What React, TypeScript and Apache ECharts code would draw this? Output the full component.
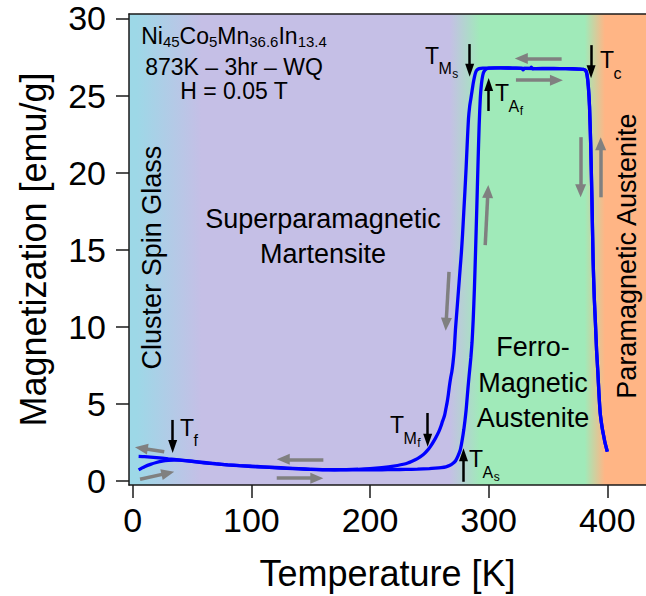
import React, { useEffect, useRef } from "react";
import * as echarts from "echarts";

const FONT = '"Liberation Sans", Arial, Helvetica, sans-serif';

// Axis extents: temperature in K, magnetization in emu/g
const T_MIN = -3.1;
const T_MAX = 432.6;
const M_MIN = -0.26;
const M_MAX = 30.29;

const temperatureTicks = [0, 100, 200, 300, 400];
const magnetizationTicks = [0, 5, 10, 15, 20, 25, 30];

// Field-cooled branch, measured from 400 K down to 5 K
const coolingT = [
  400, 399, 398, 397, 396, 395, 394, 393, 392, 391, 390, 389, 388, 387, 386, 385, 384, 383, 382, 380,
  376, 370, 360, 350, 340, 337, 336, 335, 330, 329, 328, 320, 310, 300, 295, 292, 290, 289, 288, 287,
  286, 285, 284, 283, 282, 281, 280, 279, 278, 277, 276, 275, 274, 273, 272, 271, 270, 269, 268, 267,
  266, 265, 264, 263, 262, 261, 260, 258, 255, 251, 248, 245, 240, 235, 230, 220, 210, 200, 190, 180,
  170, 160, 150, 140, 130, 120, 110, 100, 90, 80, 70, 60, 50, 40, 30, 20, 10, 5,
];
const coolingM = [
  1.9, 2.2, 2.5, 2.9, 3.3, 3.8, 4.4, 5.6, 7.1, 8.4, 10.2, 11.9, 14.4, 18.4, 21.8, 24.3, 25.6, 26.3, 26.6, 26.7,
  26.72, 26.74, 26.75, 26.76, 26.75, 26.74, 26.84, 26.76, 26.76, 26.66, 26.77, 26.78, 26.8, 26.78, 26.78, 26.75, 26.65, 26.5, 26.2, 25.8,
  25.3, 24.8, 24.3, 23.5, 22.0, 20.3, 18.8, 17.4, 16.0, 14.8, 13.8, 12.8, 11.8, 10.8, 9.8, 8.5, 7.7, 7.1, 6.7, 6.2,
  5.6, 5.1, 4.7, 4.3, 4.05, 3.85, 3.6, 3.2, 2.75, 2.25, 1.95, 1.72, 1.45, 1.27, 1.12, 0.97, 0.87, 0.8, 0.76, 0.74,
  0.73, 0.74, 0.76, 0.8, 0.84, 0.88, 0.92, 0.96, 1.0, 1.05, 1.11, 1.18, 1.27, 1.36, 1.44, 1.52, 1.58, 1.6,
];

// Heating branch, measured from 5 K up to 400 K
const heatingT = [
  5, 8, 10, 15, 20, 25, 30, 35, 40, 50, 60, 70, 80, 90, 100, 110, 120, 130, 140, 150,
  160, 170, 180, 190, 200, 210, 220, 230, 240, 250, 255, 260, 264, 267, 270, 272, 274, 276, 277, 278,
  279, 280, 281, 282, 283, 284, 285, 286, 287, 288, 289, 290, 291, 292, 293, 294, 295, 296, 298, 300,
  310, 320, 340, 360, 370, 376, 380, 382, 383, 384, 385, 386, 387, 388, 389, 390, 391, 392, 393, 394,
  395, 396, 397, 398, 399, 400,
];
const heatingM = [
  0.72, 0.85, 0.93, 1.08, 1.2, 1.29, 1.34, 1.36, 1.35, 1.28, 1.2, 1.12, 1.05, 0.99, 0.94, 0.9, 0.86, 0.82, 0.78, 0.75,
  0.73, 0.72, 0.72, 0.72, 0.72, 0.73, 0.74, 0.75, 0.77, 0.8, 0.83, 0.87, 0.92, 1.0, 1.15, 1.3, 1.6, 2.0, 2.35, 2.8,
  3.3, 3.9, 4.6, 5.5, 6.4, 7.2, 8.0, 9.0, 10.5, 12.5, 15.0, 17.7, 20.5, 23.1, 24.9, 25.8, 26.3, 26.55, 26.72, 26.78,
  26.8, 26.78, 26.75, 26.75, 26.74, 26.72, 26.7, 26.6, 26.3, 25.6, 24.3, 21.8, 18.4, 14.4, 11.9, 10.2, 8.4, 7.1, 5.6, 4.4,
  3.8, 3.3, 2.9, 2.5, 2.2, 1.9,
];

// Phase regions: temperatures where each colour is fully reached
const phaseT = [T_MIN, 3, 58, 267, 293, 381, 398, T_MAX];
const phaseColor = ["#9DD8E7", "#9DD8E7", "#C5BFE6", "#C5BFE6", "#A0EAB9", "#A0EAB9", "#FFB585", "#FFB585"];

// Transition temperatures: arrow at T from tail M to head M
const transitionArrows = [
  [33.7, 3.96, 2.24],
  [284, 28.34, 26.64],
  [300, 24.0, 25.71],
  [386.3, 28.27, 26.55],
  [248.6, 4.41, 2.64],
  [278.8, -0.05, 1.7],
];
const transitionSub = ["f", "M", "A", "c", "M", "A"];
const transitionSubSub = ["", "s", "f", "", "f", "s"];
const transitionLabelAt = [
  [39.9, 3.44],
  [246.4, 27.58],
  [305.4, 25.14],
  [393.8, 27.3],
  [216.9, 3.63],
  [283.4, 1.41],
];

// Sweep-direction arrows: [T tail, M tail, T head, M head]
const sweepArrows = [
  [361.5, 27.4, 327.5, 27.4],
  [323, 26.0, 357.1, 26.0],
  [377.5, 22.3, 377.5, 18.82],
  [394.4, 18.4, 394.4, 21.88],
  [297.1, 15.3, 299.4, 18.78],
  [266.6, 13.57, 264.1, 10.17],
  [160.7, 1.41, 126.9, 1.41],
  [121.4, 0.18, 155.2, 0.18],
  [26.6, 1.9, 7.3, 2.13],
  [6.2, 0.11, 29.65, 0.51],
];

const sampleLines = ["873K \u2013 3hr \u2013 WQ", "H = 0.05 T"];

const axisLineStyle = { color: "#1a1a1a", width: 1.5 };

function phaseGradient() {
  const span = T_MAX - T_MIN;
  return new echarts.graphic.LinearGradient(
    0,
    0,
    1,
    0,
    phaseT.map((t, i) => ({ offset: (t - T_MIN) / span, color: phaseColor[i] }))
  );
}

function arrowLines(list: number[][], color: string, width: number, head: number[]) {
  return list.map(([x1, y1, x2, y2]) => [
    { coord: [x1, y1], lineStyle: { color, width, type: "solid" } },
    { coord: [x2, y2], symbol: "triangle", symbolSize: head },
  ]);
}

function buildOption() {
  return {
    animation: false,
    grid: { left: 129, top: 14, right: 0, bottom: 111, containLabel: false },
    xAxis: [
      {
        type: "value",
        min: T_MIN,
        max: T_MAX,
        position: "bottom",
        z: 5,
        name: "Temperature [K]",
        nameLocation: "middle",
        nameGap: 70,
        nameTextStyle: { fontSize: 36, color: "#000", fontFamily: FONT },
        axisLine: { show: true, onZero: false, lineStyle: axisLineStyle },
        axisTick: { show: true, length: 13, customValues: temperatureTicks, lineStyle: axisLineStyle },
        axisLabel: { customValues: temperatureTicks, fontSize: 34, margin: 18, color: "#000", fontFamily: FONT },
        splitLine: { show: false },
      },
      {
        type: "value",
        min: T_MIN,
        max: T_MAX,
        position: "top",
        z: 5,
        axisLine: { show: true, onZero: false, lineStyle: axisLineStyle },
        axisTick: { show: false },
        axisLabel: { show: false },
        splitLine: { show: false },
      },
    ],
    yAxis: [
      {
        type: "value",
        min: M_MIN,
        max: M_MAX,
        position: "left",
        z: 5,
        name: "Magnetization [emu/g]",
        nameLocation: "middle",
        nameGap: 78,
        nameRotate: 90,
        nameTextStyle: { fontSize: 36, color: "#000", fontFamily: FONT },
        axisLine: { show: true, onZero: false, lineStyle: axisLineStyle },
        axisTick: { show: true, length: 13, customValues: magnetizationTicks, lineStyle: axisLineStyle },
        axisLabel: { customValues: magnetizationTicks, fontSize: 34, margin: 23, color: "#000", fontFamily: FONT },
        splitLine: { show: false },
      },
    ],
    series: [
      {
        name: "phases",
        type: "line",
        data: [],
        z: 1,
        silent: true,
        markArea: {
          silent: true,
          itemStyle: { color: phaseGradient(), opacity: 1, borderWidth: 0 },
          label: { show: false },
          data: [[{ coord: [T_MIN, M_MIN] }, { coord: [T_MAX, M_MAX] }]],
        },
      },
      {
        name: "cooling",
        type: "line",
        data: coolingT.map((t, i) => [t, coolingM[i]]),
        showSymbol: false,
        symbol: "none",
        smooth: 0.2,
        clip: false,
        z: 3,
        silent: true,
        lineStyle: { color: "#0000FF", width: 3.3 },
      },
      {
        name: "heating",
        type: "line",
        data: heatingT.map((t, i) => [t, heatingM[i]]),
        showSymbol: false,
        symbol: "none",
        smooth: 0.2,
        clip: false,
        z: 3,
        silent: true,
        lineStyle: { color: "#0000FF", width: 3.3 },
      },
      {
        name: "sweep",
        type: "line",
        data: [],
        z: 4,
        silent: true,
        markLine: {
          silent: true,
          symbol: ["none", "triangle"],
          label: { show: false },
          emphasis: { disabled: true },
          data: arrowLines(sweepArrows, "#808080", 3.5, [11, 13]),
        },
      },
      {
        name: "transitions",
        type: "line",
        data: [],
        z: 5,
        silent: true,
        markLine: {
          silent: true,
          symbol: ["none", "triangle"],
          label: { show: false },
          emphasis: { disabled: true },
          data: arrowLines(
            transitionArrows.map(([t, a, b]) => [t, a, t, b]),
            "#000000",
            2.5,
            [9, 13]
          ),
        },
      },
    ],
  };
}

function textEl(x: number, y: number, text: string, fontSize: number, extra: any = {}) {
  return {
    type: "text",
    x,
    y,
    z: 20,
    silent: true,
    ...extra,
    style: {
      text,
      fontSize,
      fontFamily: FONT,
      fill: "#000",
      align: extra.align || "center",
      verticalAlign: "middle",
    },
  };
}

function buildAnnotations(chart: echarts.ECharts) {
  const toPx = (t: number, m: number) =>
    chart.convertToPixel({ xAxisIndex: 0, yAxisIndex: 0 }, [t, m]) as number[];
  const els: any[] = [];

  // Sample composition and measurement conditions
  const [fx, fy] = toPx(85.4, 28.86);
  els.push({
    type: "text",
    x: fx,
    y: fy,
    z: 20,
    silent: true,
    style: {
      text: "{m|Ni}{s|45}{m|Co}{s|5}{m|Mn}{s|36.6}{m|In}{s|13.4}",
      align: "center",
      verticalAlign: "middle",
      fill: "#000",
      rich: {
        m: { fontSize: 23, fontFamily: FONT, lineHeight: 26, fill: "#000" },
        s: { fontSize: 15, fontFamily: FONT, lineHeight: 15, verticalAlign: "bottom", fill: "#000" },
      },
    },
  });
  const [l2x, l2y] = toPx(85.4, 26.82);
  els.push(textEl(l2x, l2y, sampleLines[0], 23));
  const [l3x, l3y] = toPx(85.4, 25.29);
  els.push(textEl(l3x, l3y, sampleLines[1], 23));

  // Phase names
  const [cx, cy] = toPx(16.3, 14.49);
  els.push(textEl(cx, cy, "Cluster Spin Glass", 27, { rotation: Math.PI / 2 }));
  const [s1x, s1y] = toPx(160.4, 16.99);
  els.push(textEl(s1x, s1y, "Superparamagnetic", 27));
  const [s2x, s2y] = toPx(160.4, 14.72);
  els.push(textEl(s2x, s2y, "Martensite", 27));
  const [a1x, a1y] = toPx(337.4, 8.66);
  els.push(textEl(a1x, a1y, "Ferro-", 27));
  const [a2x, a2y] = toPx(337.4, 6.36);
  els.push(textEl(a2x, a2y, "Magnetic", 27));
  const [a3x, a3y] = toPx(337.4, 4.09);
  els.push(textEl(a3x, a3y, "Austenite", 27));
  const [px, py] = toPx(416.4, 14.59);
  els.push(textEl(px, py, "Paramagnetic Austenite", 27, { rotation: Math.PI / 2 }));

  // Transition temperature symbols: T with a subscript and a nested subscript
  transitionLabelAt.forEach(([t, m], i) => {
    const [x, y] = toPx(t, m);
    const sub = transitionSub[i];
    const subWidth = sub === "M" ? 13.3 : 10.7;
    els.push(textEl(x, y, "T", 23, { align: "left" }));
    els.push(textEl(x + 13.5, y + 13, sub, 16, { align: "left" }));
    if (transitionSubSub[i]) {
      els.push(textEl(x + 13.5 + subWidth + 0.5, y + 18, transitionSubSub[i], 12, { align: "left" }));
    }
  });
  return els;
}

export default function App() {
  const ref = useRef<HTMLDivElement>(null);
  useEffect(() => {
    if (!ref.current) return;
    const chart = echarts.init(ref.current, undefined, { renderer: "svg" });
    chart.setOption(buildOption() as any);
    chart.setOption({ graphic: { elements: buildAnnotations(chart) } } as any);
    return () => chart.dispose();
  }, []);
  return (
    <div
      ref={ref}
      style={{ position: "fixed", left: 0, top: 0, width: 646, height: 596, background: "#fff" }}
    />
  );
}
